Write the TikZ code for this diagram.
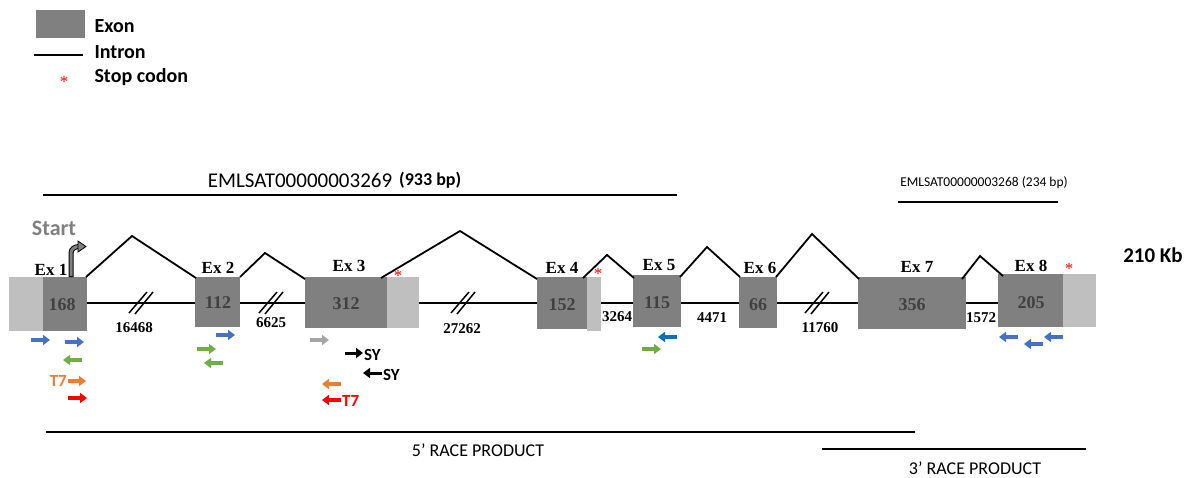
\documentclass[tikz,border=0pt]{standalone}
\usepackage{fontspec}
\setmainfont{Liberation Serif}
\newfontfamily\carlito{Carlito}
\usepackage{tikz}
\usetikzlibrary{arrows.meta}
\definecolor{exongray}{RGB}{128,128,128}
\definecolor{utrgray}{RGB}{191,191,191}
\definecolor{numgray}{RGB}{64,64,64}
\definecolor{pblue}{RGB}{68,114,196}
\definecolor{pdblue}{RGB}{0,112,192}
\definecolor{pgreen}{RGB}{112,173,71}
\definecolor{porange}{RGB}{237,125,49}
\definecolor{pgray}{RGB}{166,166,166}
\tikzstyle{exon} = [fill=exongray]
\tikzstyle{utr} = [fill=utrgray]
\tikzstyle{line} = [draw, line width=1.8pt]
\tikzstyle{brk} = [draw, line width=1.5pt]
\tikzstyle{primer} = [line width=4.5pt, -{Triangle[width=10pt,length=7pt]}]
\tikzstyle{exlabel} = [font=\bfseries\fontsize{17}{17}\selectfont]
\tikzstyle{bplabel} = [font=\bfseries\fontsize{18}{18}\selectfont, text=numgray]
\tikzstyle{inlabel} = [font=\bfseries\fontsize{15}{15}\selectfont]
\tikzstyle{stop} = [text=red, font=\fontsize{17}{17}\selectfont, inner sep=0pt]
\tikzstyle{legend} = [anchor=west, font=\carlito\bfseries\fontsize{20}{20}\selectfont]
\tikzstyle{tag} = [font=\carlito\bfseries\fontsize{17}{17}\selectfont, inner sep=1pt]
\tikzstyle{race} = [font=\carlito\fontsize{18}{18}\selectfont]

\begin{document}
\begin{tikzpicture}[x=1pt, y=-1pt]
      \useasboundingbox (0,0) rectangle (1189,477);

      % legend
      \fill[exongray] (36,10) rectangle (85,38);
      \draw[line] (34,55) -- (83,55);
      \node (legstar) at (64,82) [stop] {*};
      \node (legexon) at (91,26) [legend] {Exon};
      \node (legintron) at (91,52) [legend] {Intron};
      \node (legstop) at (91,77) [legend] {Stop codon};

      % transcripts
      \draw[line] (43,195) -- (677,195);
      \node (tr1) at (300,180) [font=\carlito\fontsize{21}{21}\selectfont] {EMLSAT00000003269};
      \node (tr1bp) at (tr1.east) [anchor=west, font=\carlito\bfseries\fontsize{18}{18}\selectfont] {(933 bp)};
      \draw[line] (898,202) -- (1058,202);
      \node (tr2) at (984,183) [font=\carlito\fontsize{13.5}{13.5}\selectfont] {EMLSAT00000003268 (234 bp)};
      \node (size) at (1153,255) [font=\carlito\bfseries\fontsize{21}{21}\selectfont] {210 Kb};

      % introns
      \draw[line] (86,303) -- (998,303);

      % exons
      \fill[utr] (9,277) rectangle (43,331);
      \fill[exon] (43,277) rectangle (87,331);
      \fill[exon] (195,277) rectangle (240,327);
      \fill[exon] (305,277) rectangle (387,328);
      \fill[utr] (387,277) rectangle (419,328);
      \fill[exon] (537,277) rectangle (587,329);
      \fill[utr] (587,277) rectangle (601,331);
      \fill[exon] (633,275) rectangle (681,327);
      \fill[exon] (739,277) rectangle (777,328);
      \fill[exon] (858,277) rectangle (966,329);
      \fill[exon] (998,274) rectangle (1063,327);
      \fill[utr] (1063,274) rectangle (1096,327);

      % splicing
      \draw[line] (86,277) -- (132,236) -- (196,278);
      \draw[line] (240,277) -- (265,253) -- (305,279);
      \draw[line] (381,278) -- (460,231) -- (537,279);
      \draw[line] (583,278) -- (607,255) -- (634,278);
      \draw[line] (680,277) -- (707,247) -- (740,277);
      \draw[line] (776,277) -- (812,234) -- (859,279);
      \draw[line] (962,279) -- (980,256) -- (1003,276);

      % breaks
      \foreach \cx in {141,271,463,817} {
        \draw[brk] (\cx-12,313) -- (\cx+6,292);
        \draw[brk] (\cx-6,314) -- (\cx+12,292);
      }

      % exon labels
      \node (ex1) at (51,270) [exlabel] {Ex 1};
      \node (ex2) at (218,268) [exlabel] {Ex 2};
      \node (ex3) at (349,266) [exlabel] {Ex 3};
      \node (ex4) at (562,268) [exlabel] {Ex 4};
      \node (ex5) at (659,265) [exlabel] {Ex 5};
      \node (ex6) at (760,268) [exlabel] {Ex 6};
      \node (ex7) at (917,267) [exlabel] {Ex 7};
      \node (ex8) at (1031,266) [exlabel] {Ex 8};

      \node (bp1) at (62,305) [bplabel] {168};
      \node (bp2) at (218,303) [bplabel] {112};
      \node (bp3) at (346,304) [bplabel] {312};
      \node (bp4) at (562,305) [bplabel] {152};
      \node (bp5) at (657,303) [bplabel] {115};
      \node (bp6) at (758,305) [bplabel] {66};
      \node (bp7) at (912,305) [bplabel] {356};
      \node (bp8) at (1031,303) [bplabel] {205};

      \node (in1) at (134,328) [inlabel] {16468};
      \node (in2) at (271,323) [inlabel] {6625};
      \node (in3) at (462,329) [inlabel] {27262};
      \node (in4) at (617,317) [inlabel] {3264};
      \node (in5) at (712,318) [inlabel] {4471};
      \node (in6) at (820,328) [inlabel] {11760};
      \node (in7) at (981,318) [inlabel] {1572};

      % stop codons
      \node (stop3) at (398,276) [stop] {*};
      \node (stop4) at (598,274) [stop] {*};
      \node (stop8) at (1069,269) [stop] {*};

      % start
      \node (start) at (54,228) [font=\carlito\bfseries\fontsize{22}{22}\selectfont, text=exongray] {Start};
      \draw[line width=5pt, black] (71,277) -- (71,253) to[out=90,in=180] (79,246.5);
      \draw[line width=3pt, exongray] (71,276) -- (71,253) to[out=90,in=180] (79,246.5);
      \filldraw[fill=exongray, draw=black, line width=0.8pt] (78,241) -- (86,246.5) -- (78,252) -- cycle;

      % primers
      \draw[primer, pblue] (31,340) -- (50,340);
      \draw[primer, pblue] (65,342) -- (84,342);
      \draw[primer, pgreen] (82,360) -- (63,360);
      \draw[primer, porange] (68,381) -- (86,381);
      \node (t7a) at (68,381) [tag, anchor=east, text=porange] {T7};
      \draw[primer, red] (68,398) -- (87,398);

      \draw[primer, pblue] (216,335) -- (235,335);
      \draw[primer, pgreen] (197,349) -- (216,349);
      \draw[primer, pgreen] (223,363) -- (204,363);

      \draw[primer, pgray] (310,340) -- (329,340);
      \draw[primer, black, line width=3pt] (345,353) -- (363,353);
      \node (sya) at (363,355) [tag, anchor=west] {SY};
      \draw[primer, black, line width=3pt] (382,373) -- (363,373);
      \node (syb) at (382,375) [tag, anchor=west] {SY};
      \draw[primer, porange] (341,384) -- (322,384);
      \draw[primer, red] (341,400) -- (322,400);
      \node (t7b) at (341,401) [tag, anchor=west, text=red] {T7};

      \draw[primer, pdblue] (677,337) -- (658,337);
      \draw[primer, pgreen] (642,349) -- (661,349);

      \draw[primer, pblue] (1018,337) -- (999,337);
      \draw[primer, pblue] (1043,344) -- (1024,344);
      \draw[primer, pblue] (1063,337) -- (1044,337);

      % race products
      \draw[line] (46,432) -- (915,432);
      \node (race5) at (478,450) [race] {5’ RACE PRODUCT};
      \draw[line] (822,449) -- (1086,449);
      \node (race3) at (975,468) [race] {3’ RACE PRODUCT};
\end{tikzpicture}
\end{document}
